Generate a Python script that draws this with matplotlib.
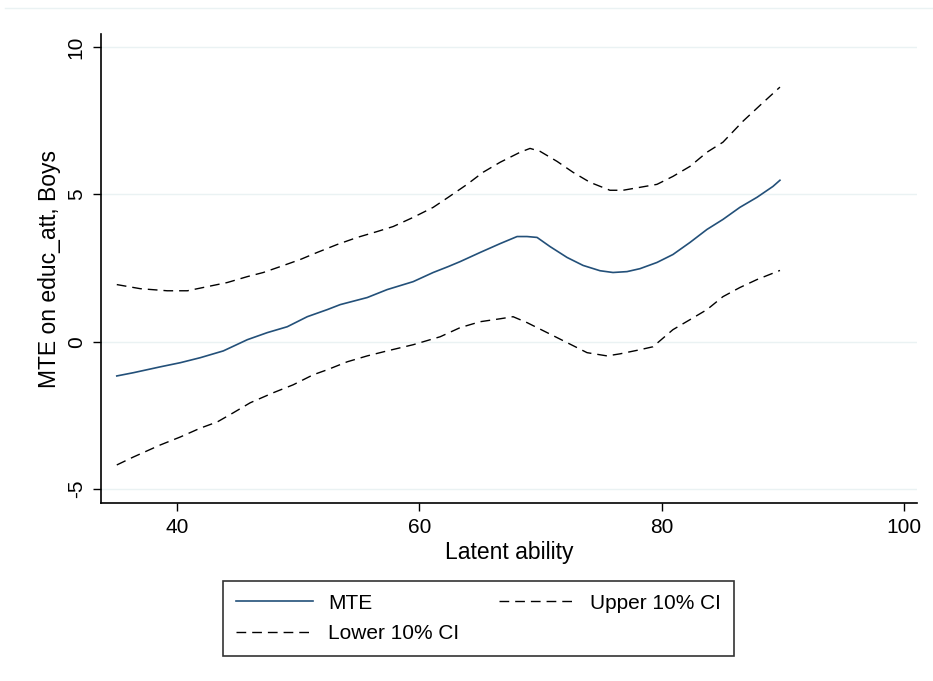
import matplotlib
matplotlib.use("Agg")
import matplotlib.pyplot as plt
from matplotlib.lines import Line2D

plt.rcParams['font.family'] = ['Liberation Sans', 'DejaVu Sans']

# Data
x_mte = [35.0, 36.37, 38.60, 40.25, 41.90, 43.80, 45.78, 47.43, 49.08, 50.73, 52.38,
         53.45, 55.68, 57.33, 59.48, 61.13, 62.37, 63.36, 65.01, 66.66, 68.06, 68.88,
         69.71, 70.78, 72.19, 73.51, 74.91, 75.98, 77.14, 78.21, 79.61, 80.93, 82.34,
         83.74, 85.06, 86.46, 87.87, 89.19, 89.77]
mte = [-1.16, -1.05, -0.85, -0.71, -0.54, -0.31, 0.07, 0.31, 0.51, 0.85, 1.09,
       1.26, 1.50, 1.77, 2.04, 2.35, 2.55, 2.72, 3.03, 3.33, 3.57, 3.57,
       3.54, 3.23, 2.86, 2.59, 2.41, 2.35, 2.38, 2.48, 2.69, 2.96, 3.37,
       3.81, 4.15, 4.56, 4.90, 5.27, 5.48]

x_up = [35.0, 36.95, 39.17, 40.83, 42.48, 44.13, 45.78, 47.10, 48.50, 50.15, 51.55,
        53.20, 54.86, 56.51, 57.83, 59.48, 61.13, 62.37, 63.93, 65.25, 66.66, 68.31,
        69.13, 69.96, 71.36, 72.68, 74.08, 75.73, 76.81, 78.21, 79.61, 80.93, 82.34,
        83.74, 85.06, 86.71, 88.20, 89.77]
upper = [1.94, 1.80, 1.73, 1.73, 1.87, 2.01, 2.21, 2.35, 2.55, 2.79, 3.03,
         3.30, 3.54, 3.74, 3.91, 4.22, 4.56, 4.90, 5.34, 5.75, 6.09, 6.43,
         6.56, 6.46, 6.12, 5.75, 5.41, 5.14, 5.14, 5.24, 5.34, 5.61, 5.95,
         6.43, 6.77, 7.48, 8.05, 8.64]

x_lo = [35.0, 36.37, 38.60, 40.25, 41.90, 43.30, 44.62, 46.02, 47.92, 49.57, 51.22,
        52.38, 54.03, 55.68, 57.33, 59.48, 61.13, 61.71, 63.36, 65.01, 66.66, 67.73,
        68.88, 70.54, 72.19, 73.84, 75.49, 76.56, 78.21, 79.28, 80.93, 82.34, 83.74,
        85.06, 86.46, 87.87, 89.77]
lower = [-4.18, -3.91, -3.50, -3.23, -2.93, -2.72, -2.41, -2.07, -1.73, -1.46, -1.12,
         -0.95, -0.68, -0.48, -0.31, -0.10, 0.10, 0.17, 0.48, 0.68, 0.78, 0.85,
         0.65, 0.31, -0.03, -0.37, -0.48, -0.41, -0.27, -0.17, 0.41, 0.75, 1.09,
         1.53, 1.84, 2.11, 2.42]

x_ticks = [40, 60, 80, 100]
y_ticks = [-5, 0, 5, 10]

fig = plt.figure(figsize=(9.33, 6.81), dpi=100)
ax = fig.add_axes([0.1083, 0.2614, 0.983 - 0.1083, 0.950 - 0.2614])

ax.set_xlim(33.7, 101.1)
ax.set_ylim(-5.47, 10.44)

for yv in y_ticks:
    ax.axhline(yv, color='#eaf2f3', lw=1.0, zorder=0)

l_mte, = ax.plot(x_mte, mte, color='#235079', lw=1.2, label='MTE')
l_lo, = ax.plot(x_lo, lower, color='black', lw=1.0, dashes=(7, 4.3), label='Lower 10% CI')
l_up, = ax.plot(x_up, upper, color='black', lw=1.0, dashes=(7, 4.3), label='Upper 10% CI')

ax.spines['top'].set_visible(False)
ax.spines['right'].set_visible(False)
for s in ('left', 'bottom'):
    ax.spines[s].set_linewidth(1.2)
    ax.spines[s].set_color('black')

ax.set_xticks(x_ticks)
ax.set_yticks(y_ticks)
ax.set_yticklabels([str(v) for v in y_ticks], rotation=90, va='center')
ax.tick_params(axis='both', direction='out', length=6, width=1.0, labelsize=15,
               colors='black', pad=5)
ax.set_xlabel('Latent ability', fontsize=16.5, labelpad=3)
ax.set_ylabel('MTE on educ_att, Boys', fontsize=16.5, labelpad=4)

leg = fig.legend(handles=[l_mte, l_lo, l_up], ncol=2, loc='center',
                 bbox_to_anchor=(0.513, 0.092), fontsize=15, frameon=True,
                 fancybox=False, edgecolor='black', handlelength=3.7,
                 handletextpad=0.7, columnspacing=1.9, labelspacing=0.55,
                 borderpad=0.62, borderaxespad=0)
leg.get_frame().set_linewidth(1.2)

fig.add_artist(Line2D([5 / 933, 1.0], [1 - 8 / 681, 1 - 8 / 681], color='#eaf2f3',
                      lw=1.0, transform=fig.transFigure))

fig.savefig('out.png', dpi=100, facecolor='white')
